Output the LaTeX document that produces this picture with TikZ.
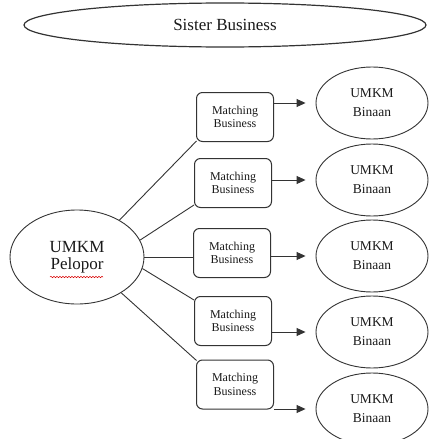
\documentclass[tikz,border=0pt]{standalone}
\usepackage{fontspec}
\setmainfont{Liberation Serif}
\usetikzlibrary{shapes.geometric,arrows.meta,decorations.pathmorphing,calc}
\begin{document}
\begin{tikzpicture}[x=1pt,y=-1pt,
  line/.style={draw=black!80, line width=0.9pt},
  oval/.style={ellipse, draw=black!80, line width=0.9pt, inner sep=0pt, align=center, text=black!90},
  mbox/.style={rectangle, rounded corners=6pt, draw=black!80, line width=1pt, minimum width=77pt, minimum height=49pt, inner sep=0pt, align=center, font=\fontsize{12}{13.5}\selectfont, text=black!90},
  binaan/.style={oval, minimum width=112pt, minimum height=72pt, font=\fontsize{13.5}{19}\selectfont},
  arr/.style={line, -{Triangle[length=9pt,width=8pt]}, shorten >=10pt}
]
\useasboundingbox (0,0) rectangle (429,439);

\node[oval, minimum width=402pt, minimum height=44pt, line width=1.2pt, font=\fontsize{17}{20}\selectfont] (sb) at (225,25) {Sister Business};

\node[oval, minimum width=134pt, minimum height=94pt, font=\fontsize{17}{17}\selectfont] (p) at (77,257) {UMKM\\Pelopor};
\draw[red!85!black, line width=0.5pt, decorate, decoration={snake, amplitude=0.7pt, segment length=3pt}] ($(p.center)+(-27,20)$) -- ($(p.center)+(26,20)$);

\node[mbox] (m1) at (235,117) {Matching\\Business};
\node[mbox] (m2) at (233,183) {Matching\\Business};
\node[mbox] (m3) at (232,253) {Matching\\Business};
\node[mbox] (m4) at (233,321) {Matching\\Business};
\node[mbox] (m5) at (235,384.5) {Matching\\Business};

\node[binaan] (e1) at (372,103) {UMKM\\Binaan};
\node[binaan] (e2) at (372,180) {UMKM\\Binaan};
\node[binaan] (e3) at (372,256) {UMKM\\Binaan};
\node[binaan] (e4) at (372,332) {UMKM\\Binaan};
\node[binaan] (e5) at (372,409) {UMKM\\Binaan};

\draw[line] (p.41) -- ([xshift=0.5pt,yshift=1pt]m1.south west);
\draw[line] (p.15) -- ([yshift=3pt]m2.south west);
\draw[line] (p.east) -- (p.east -| m3.west);
\draw[line] (p.350) -- ([yshift=-4pt]m4.north west);
\draw[line] (p.321) -- ([xshift=0.5pt,yshift=-1pt]m5.north west);

\draw[arr] (m1.east |- e1.center) -- (e1.west);
\draw[arr] (m2.east |- e2.center) -- (e2.west);
\draw[arr] (m3.east |- e3.center) -- (e3.west);
\draw[arr] (m4.east |- e4.center) -- (e4.west);
\draw[arr] (m5.east |- e5.center) -- (e5.west);
\end{tikzpicture}
\end{document}
